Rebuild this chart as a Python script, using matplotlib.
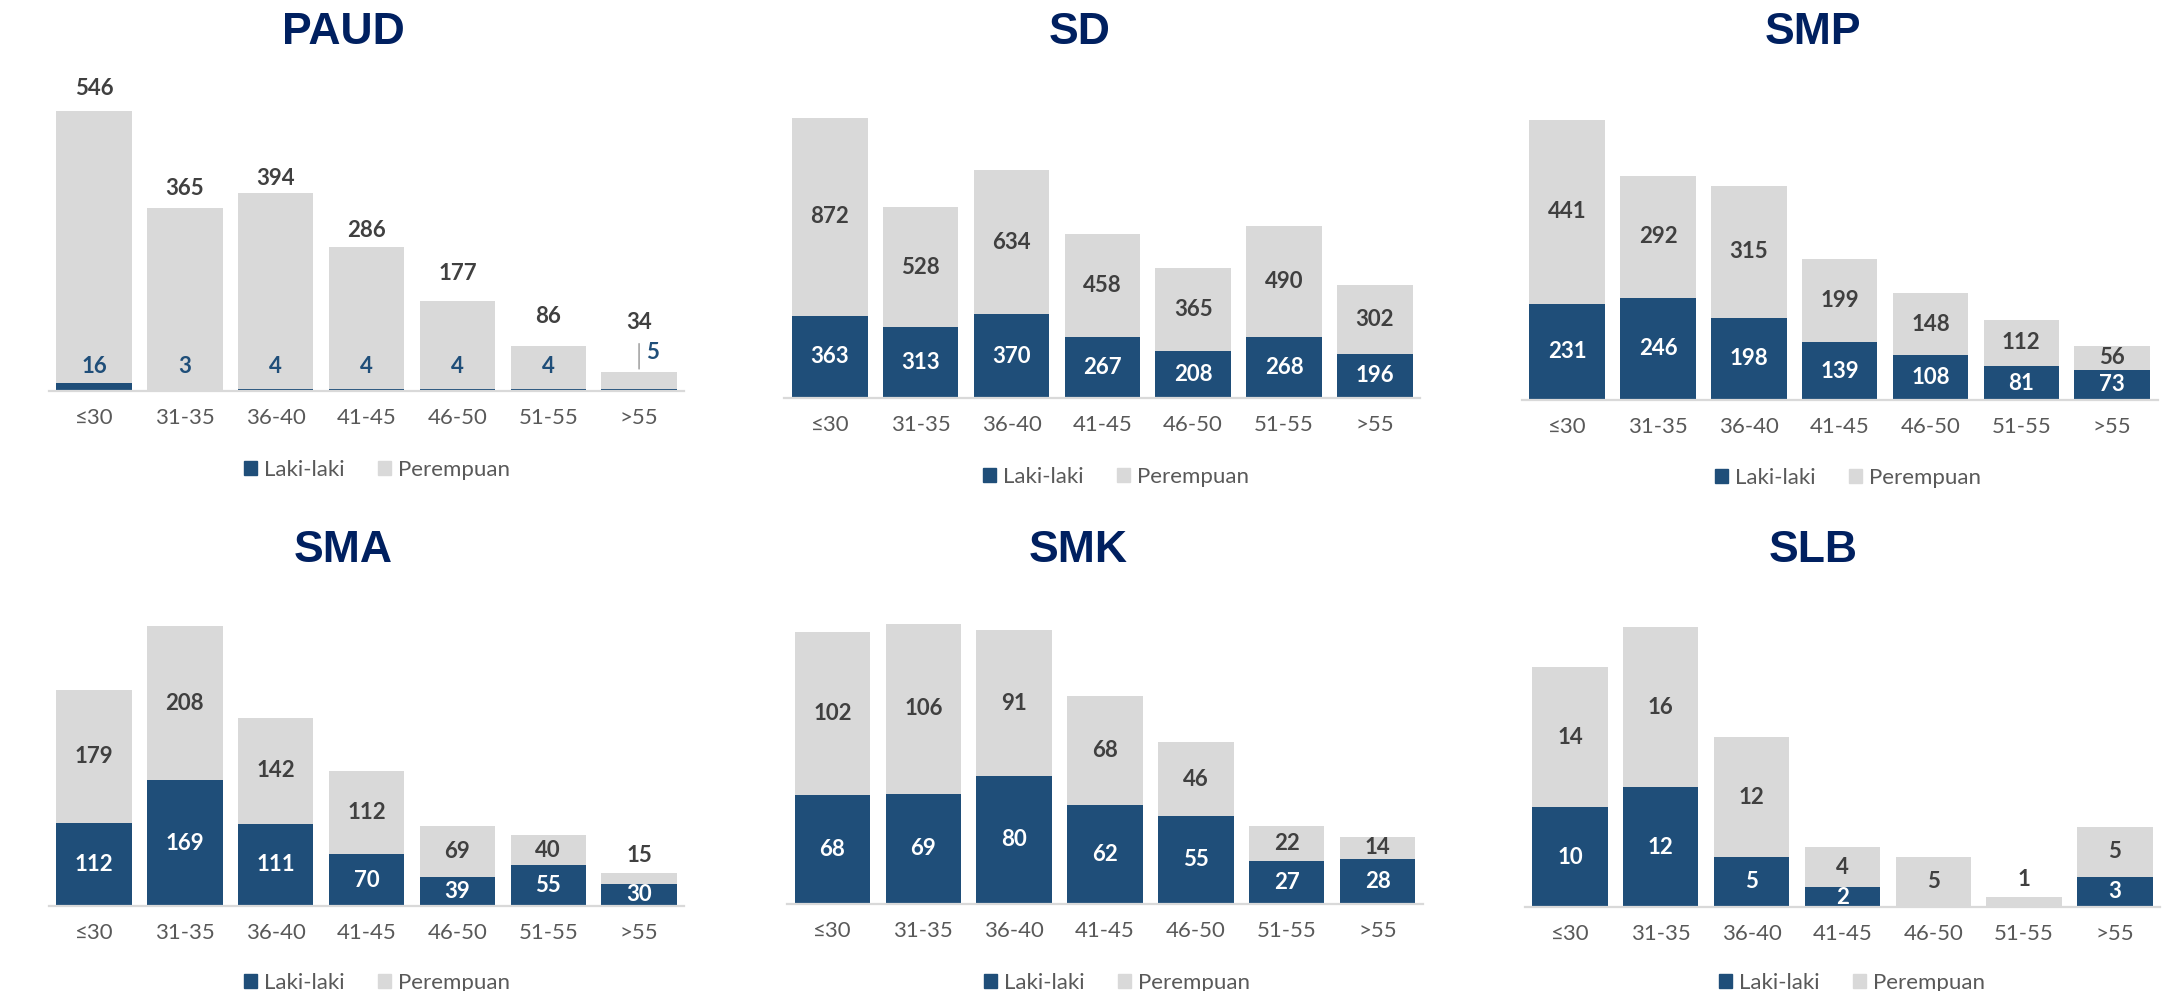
# Distribusi guru per kelompok umur dan jenis kelamin, per jenjang
import matplotlib
matplotlib.use("Agg")
import matplotlib.pyplot as plt
from matplotlib.patches import Patch

# ---- data ----
age_groups = ["≤30", "31-35", "36-40", "41-45", "46-50", "51-55", ">55"]

paud_laki = [16, 3, 4, 4, 4, 4, 5]
paud_perempuan = [546, 365, 394, 286, 177, 86, 34]

sd_laki = [363, 313, 370, 267, 208, 268, 196]
sd_perempuan = [872, 528, 634, 458, 365, 490, 302]

smp_laki = [231, 246, 198, 139, 108, 81, 73]
smp_perempuan = [441, 292, 315, 199, 148, 112, 56]

sma_laki = [112, 169, 111, 70, 39, 55, 30]
sma_perempuan = [179, 208, 142, 112, 69, 40, 15]

smk_laki = [68, 69, 80, 62, 55, 27, 28]
smk_perempuan = [102, 106, 91, 68, 46, 22, 14]

slb_laki = [10, 12, 5, 2, 0, 0, 3]
slb_perempuan = [14, 16, 12, 4, 5, 1, 5]

# ---- style ----
BLUE = "#1F4E79"
GREY = "#D9D9D9"
NAVY = "#002060"
TXT = "#404040"
TICK = "#595959"
W, H = 2177, 991
AX_H = 300          # axes height in px, tallest bar is ~280 px
TALL = 280
LBL = 16

# left px, right px, baseline px, title x, title y, legend x, legend y
layout = {
    "PAUD": (48.6, 684.5, 391, 343, 33, 377, 470),
    "SD": (784.4, 1420.3, 398, 1080, 33, 1116, 477),
    "SMP": (1521.7, 2157.6, 400, 1813, 33, 1848, 478),
    "SMA": (48.6, 684.5, 906, 343, 551, 377, 983),
    "SMK": (787, 1423, 904, 1078, 551, 1117, 983),
    "SLB": (1524.5, 2160.4, 907, 1813, 551, 1852, 983),
}
panels = [
    ("PAUD", paud_laki, paud_perempuan),
    ("SD", sd_laki, sd_perempuan),
    ("SMP", smp_laki, smp_perempuan),
    ("SMA", sma_laki, sma_perempuan),
    ("SMK", smk_laki, smk_perempuan),
    ("SLB", slb_laki, slb_perempuan),
]
# PAUD labels sit above the bars (offset in points)
paud_nudge = [16, 14, 10.5, 11.5, 20, 21, 35]

plt.rcParams["font.family"] = ["Lato", "DejaVu Sans"]

fig = plt.figure(figsize=(W / 100, H / 100), dpi=100)

for name, laki, perempuan in panels:
    left, right, base, tx, ty, lx, ly = layout[name]
    ax = fig.add_axes([left / W, 1 - base / H, (right - left) / W, AX_H / H])
    x = list(range(len(age_groups)))
    totals = [a + b for a, b in zip(laki, perempuan)]
    ax.bar(x, laki, width=0.83, color=BLUE)
    ax.bar(x, perempuan, bottom=laki, width=0.83, color=GREY)
    ax.set_xlim(-0.5, len(age_groups) - 0.5)
    ax.set_ylim(0, max(totals) * AX_H / TALL)
    per_px = max(totals) / TALL

    for s in ["top", "right", "left"]:
        ax.spines[s].set_visible(False)
    ax.spines["bottom"].set_color(GREY)
    ax.spines["bottom"].set_linewidth(1.6)
    ax.set_yticks([])
    ax.set_xticks(x)
    ax.set_xticklabels(age_groups, fontsize=16, color=TICK)
    ax.tick_params(axis="x", length=0, pad=12.5)

    for i in x:
        if name == "PAUD":
            ax.annotate(str(perempuan[i]), (i, totals[i]), xytext=(0, paud_nudge[i]),
                        textcoords="offset points", ha="center", va="center",
                        fontsize=LBL, fontweight="bold", color=TXT)
            if i == len(x) - 1:
                ax.annotate("", (i, totals[i]), xytext=(0, 22), textcoords="offset points",
                            arrowprops=dict(arrowstyle="-", color="#A6A6A6", lw=1.2))
                ax.annotate(str(laki[i]), (i, totals[i]), xytext=(9.5, 13.5),
                            textcoords="offset points", ha="center", va="center",
                            fontsize=LBL, fontweight="bold", color=BLUE)
            else:
                ax.annotate(str(laki[i]), (i, 0), xytext=(0, 17.5),
                            textcoords="offset points", ha="center", va="center",
                            fontsize=LBL, fontweight="bold", color=BLUE)
            continue
        if laki[i] > 0:
            ax.text(i, laki[i] / 2, str(laki[i]), ha="center", va="center",
                    fontsize=LBL, fontweight="bold", color="white")
        if perempuan[i] > 0:
            if perempuan[i] / per_px < 15:
                ax.annotate(str(perempuan[i]), (i, totals[i]), xytext=(0, 12.5),
                            textcoords="offset points", ha="center", va="center",
                            fontsize=LBL, fontweight="bold", color=TXT)
            else:
                ax.text(i, laki[i] + perempuan[i] / 2, str(perempuan[i]), ha="center",
                        va="center", fontsize=LBL, fontweight="bold", color=TXT)

    fig.text(tx / W, 1 - ty / H, name, ha="center", va="center", fontsize=32,
             fontweight="bold", color=NAVY, family=["Liberation Sans", "DejaVu Sans"])
    handles = [Patch(color=BLUE, label="Laki-laki"), Patch(color=GREY, label="Perempuan")]
    fig.legend(handles=handles, loc="center", bbox_to_anchor=(lx / W, 1 - ly / H),
               ncol=2, frameon=False, fontsize=16, labelcolor=TICK,
               handlelength=0.6, handleheight=0.6, handletextpad=0.3,
               columnspacing=1.5, borderpad=0, borderaxespad=0)

fig.savefig("out.png", dpi=100, facecolor="white")
